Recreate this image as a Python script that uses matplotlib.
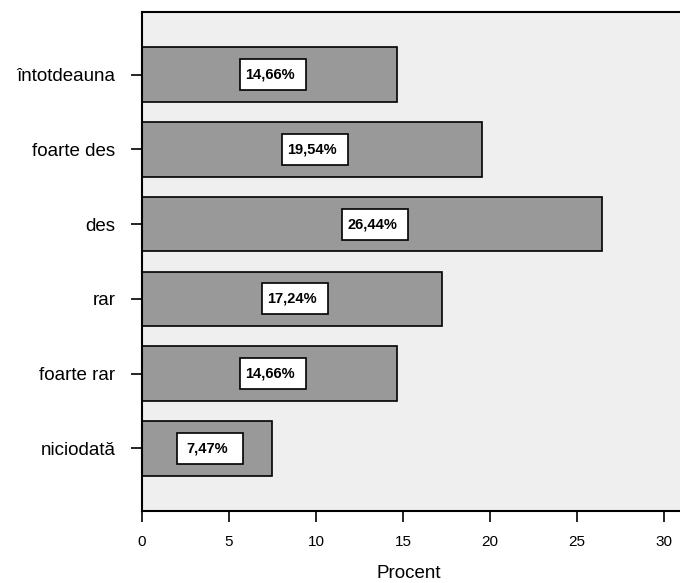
import matplotlib.pyplot as plt
import matplotlib.transforms as mtransforms
from matplotlib.patches import Rectangle

plt.rcParams['font.family'] = ['Liberation Sans', 'DejaVu Sans']

# frecvente (procent) - de jos in sus
categorii = ['niciodată', 'foarte rar', 'rar', 'des', 'foarte des', 'întotdeauna']
procente = [7.47, 14.66, 17.24, 26.44, 19.54, 14.66]
etichete = ['7,47%', '14,66%', '17,24%', '26,44%', '19,54%', '14,66%']
x_ticks = [0, 5, 10, 15, 20, 25, 30]

fig = plt.figure(figsize=(6.8, 5.83), dpi=100)
ax = fig.add_axes([0.2088, 0.1235, 0.806, 0.856])
ax.set_facecolor('#efefef')

poz = range(len(categorii))
ax.barh(poz, procente, height=0.73, color='#999999', edgecolor='black',
        linewidth=1.2, zorder=2)

# casute albe cu valoarea, latime fixa in pixeli
for y, v, et in zip(poz, procente, etichete):
    cx = v / 2
    tr = mtransforms.Affine2D() + mtransforms.ScaledTranslation(cx, y, ax.transData)
    ax.add_patch(Rectangle((-30, -15.5), 66, 31, transform=tr,
                           facecolor='white', edgecolor='black', linewidth=1.2,
                           zorder=3, clip_on=False))
    ax.text(cx, y, et, ha='center', va='center', fontsize=10.5,
            fontweight='bold', zorder=4)

ax.set_xlim(0, 31.5)
ax.set_ylim(-0.84, 5.84)
ax.set_xticks(x_ticks)
ax.set_yticks(list(poz))
ax.set_yticklabels(categorii, fontsize=13.5)
ax.tick_params(axis='x', length=8, width=1.2, labelsize=11, pad=9)
ax.tick_params(axis='y', length=8, width=1.2, pad=11)

for s in ['left', 'bottom', 'top', 'right']:
    ax.spines[s].set_linewidth(1.5)

ax.set_xlabel('Procent', fontsize=13.5)
ax.xaxis.set_label_coords(0.487, -0.109)

fig.savefig('out.png', dpi=100)
